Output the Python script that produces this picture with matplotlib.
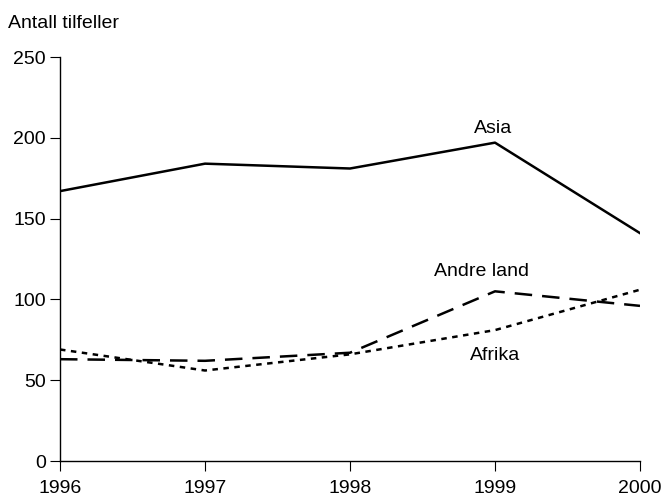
import matplotlib
matplotlib.use("Agg")
import matplotlib.pyplot as plt

years = [1996, 1997, 1998, 1999, 2000]
asia = [167, 184, 181, 197, 141]
andre_land = [63, 62, 67, 105, 96]
afrika = [69, 56, 66, 81, 106]

plt.rcParams['font.family'] = ['Liberation Sans', 'DejaVu Sans']
FS = 14

fig = plt.figure(figsize=(6.62, 4.96), dpi=100)
ax = fig.add_axes([60/662, 35/496, 580/662, 404/496])

ax.plot(years, asia, color='black', lw=1.8, linestyle='-')
ax.plot(years, andre_land, color='black', lw=1.8, linestyle=(0, (7, 4)))
ax.plot(years, afrika, color='black', lw=1.8, linestyle=(0, (2.2, 2.2)))

ax.set_xlim(1996, 2000)
ax.set_ylim(0, 250)
ax.set_xticks(years)
ax.set_yticks([0, 50, 100, 150, 200, 250])
ax.tick_params(axis='both', labelsize=FS, direction='out', length=7, width=0.8, color='black')
ax.tick_params(axis='x', pad=6.5)
ax.tick_params(axis='y', pad=3)
ax.spines['top'].set_visible(False)
ax.spines['right'].set_visible(False)
for s in ['left', 'bottom']:
    ax.spines[s].set_linewidth(1.0)

ax.text(1998.99, 206, 'Asia', fontsize=FS, ha='center', va='center')
ax.text(1998.91, 117.5, 'Andre land', fontsize=FS, ha='center', va='center')
ax.text(1999.0, 65.5, 'Afrika', fontsize=FS, ha='center', va='center')
fig.text(8/662, 1 - 24/496, 'Antall tilfeller', fontsize=FS, ha='left', va='center')

fig.savefig('out.png', dpi=100)
